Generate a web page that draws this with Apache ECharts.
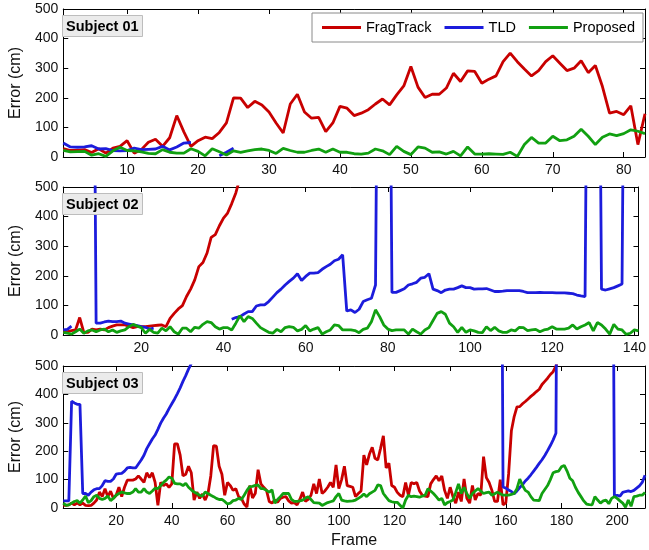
<!DOCTYPE html>
<html><head><meta charset="utf-8">
<script src="https://cdn.jsdelivr.net/npm/echarts@6/dist/echarts.min.js"></script>
<style>html,body{margin:0;padding:0;background:#fff}#c{width:649px;height:550px}</style>
</head><body><div id="c"></div>
<script>
// ---------- labels / ticks ----------
const seriesNames = ['FragTrack', 'TLD', 'Proposed'];
const subjectTitles = ['Subject 01', 'Subject 02', 'Subject 03'];
const frameMin = [1, 1, 1];
const frameMax = [83, 141, 210];
const xTicks1 = [10, 20, 30, 40, 50, 60, 70, 80];
const xTicks2 = [20, 40, 60, 80, 100, 120, 140];
const xTicks3 = [20, 40, 60, 80, 100, 120, 140, 160, 180, 200];
const yTicks = [0, 100, 200, 300, 400, 500];

// ---------- Subject 01 (frames 1..83) ----------
const s1FragTrack = [28,22,22,25,15,28,13,30,36,55,13,25,50,60,36,65,140,85,36,55,
  67,62,83,115,200,199,167,188,176,152,115,81,179,212,152,131,134,86,115,171,
  165,140,148,160,179,196,176,210,240,306,236,201,212,212,233,283,255,291,289,249,
  263,274,322,351,322,297,274,292,322,342,317,292,300,325,285,309,238,148,154,143,
  173,42,146];
const s1TLDStarts = [1, 23];
const s1TLDa = [47,34,33,34,38,27,28,22,21,22,30,25,26,27,36,24,34,47,49];
const s1TLDb = [4,16,30];
const s1Proposed = [22,17,18,19,6,11,2,21,33,22,21,17,12,11,25,16,13,13,28,19,
  4,28,18,7,21,16,21,25,27,22,12,29,22,16,16,22,27,16,27,16,
  16,11,10,13,27,21,8,36,19,8,34,30,16,17,10,19,4,34,10,10,
  11,10,9,16,2,42,66,47,47,70,55,58,70,94,70,42,67,78,72,79,
  92,87,79];

// ---------- Subject 02 (frames 1..141) ----------
const s2FragTrack = [11,11,15,17,59,9,9,20,17,20,17,25,30,34,34,34,30,25,28,28,
  28,30,32,33,34,28,56,73,88,99,130,155,186,231,245,277,330,339,369,395,
  412,444,480,530];
const s2TLDStarts = [1, 8, 42, 80, 131];
const s2TLDa = [17,19,30];
const s2TLDb = [2000,40,40,44,47,45,45,47,40,37,34,32,28,26,20,23];
const s2TLDc = [53,59,62,71,79,79,98,102,102,113,128,143,155,169,181,192,207,184,198,209,
  209,211,222,231,239,251,256,271,81,85,76,87,113,119,124,169,2000];
const s2TLDd = [2000,144,144,150,156,169,173,178,192,195,207,155,150,143,152,155,155,160,166,160,
  160,155,156,156,157,152,147,147,148,150,150,150,150,147,143,143,143,144,143,143,
  143,142,142,142,141,140,135,132,130,2000];
const s2TLDe = [2000,155,152,156,160,166,172,2000];
const s2Proposed = [9,6,3,11,20,6,14,17,11,17,20,11,17,9,14,17,28,36,30,25,
  6,19,9,6,23,14,28,11,3,23,23,11,26,23,36,45,42,28,20,25,
  25,17,40,65,45,62,56,40,25,17,9,6,19,11,25,28,26,14,19,32,
  14,20,25,3,11,17,34,32,17,17,17,15,8,19,23,45,85,62,34,20,
  15,17,17,17,3,20,11,3,17,25,49,73,79,70,40,28,9,26,9,17,
  14,9,8,28,15,26,14,9,9,17,14,26,25,15,17,19,11,17,20,28,
  20,20,20,23,34,20,28,34,42,14,42,34,20,3,36,20,17,2,6,17,14];

// ---------- Subject 03 (frames 1..210) ----------
const s3FragTrack = [9,9,11,17,11,17,11,17,9,8,9,17,28,56,40,68,40,59,34,45,
  73,40,73,98,98,98,102,113,102,90,124,107,124,90,9,90,79,85,73,85,
  226,226,186,113,119,147,124,28,56,34,49,28,51,113,220,218,147,119,45,90,
  79,62,68,40,34,14,3,79,35,52,135,85,73,63,23,17,28,20,34,38,
  40,25,17,19,11,30,56,23,30,45,85,51,102,51,60,73,90,73,152,68,
  100,147,79,76,73,40,51,60,186,152,190,214,175,169,210,254,141,158,79,73,
  55,45,40,90,45,90,85,90,60,45,42,40,85,100,113,96,113,62,34,73,
  40,17,56,23,102,34,17,79,28,51,45,181,107,90,62,23,23,100,11,18,
  120,272,322,356,357,367,375,384,393,401,410,418,435,446,457,470,480,500,530];
const s3TLDStarts = [1, 158, 198];
const s3TLDa = [25,25,25,376,370,365,365,51,51,45,56,64,68,68,79,96,94,94,102,119,
  121,122,130,141,143,141,141,155,169,186,209,226,243,257,277,299,316,331,350,367,
  384,403,423,446,466,489,508];
const s3TLDb = [2000,74,70,63,58,50,60,72,82,95,105,117,130,143,157,170,185,202,220,240,263,2000];
const s3TLDc = [2000,41,45,42,55,58,60,58,62,70,78,90,115];
const s3Proposed = [17,9,11,17,23,26,17,28,42,19,26,40,45,34,30,34,42,26,34,45,
  51,56,53,51,51,56,68,56,56,68,56,51,60,70,68,79,90,98,109,105,
  87,85,85,79,87,73,64,56,51,45,42,56,51,45,40,34,30,30,23,14,
  17,26,28,34,30,45,62,75,76,80,81,68,68,62,56,64,17,30,40,51,
  51,51,30,23,23,25,28,35,40,30,19,18,17,9,14,19,22,25,40,51,
  28,25,23,24,25,28,34,40,49,40,50,56,62,81,79,51,38,26,22,20,
  20,10,0,28,45,40,42,40,38,42,45,68,60,51,40,28,34,11,19,23,
  28,55,85,51,73,50,34,51,60,68,60,51,54,56,45,50,56,50,45,45,
  45,48,51,68,102,79,62,56,40,28,27,26,51,65,79,100,124,128,130,145,
  150,130,105,96,73,55,40,25,14,12,11,40,28,17,25,28,15,34,40,34,
  25,17,3,28,6,40,42,45,45,55];

// ---------- build ----------
function pts(starts, segs) {
  const out = [];
  segs.forEach((vals, k) => {
    if (k > 0) out.push([starts[k - 1] + segs[k - 1].length, null]);
    vals.forEach((v, i) => out.push([starts[k] + i, v]));
  });
  return out;
}
const panelData = [
  [pts([1], [s1FragTrack]), pts(s1TLDStarts, [s1TLDa, s1TLDb]), pts([1], [s1Proposed])],
  [pts([1], [s2FragTrack]), pts(s2TLDStarts, [s2TLDa, s2TLDb, s2TLDc, s2TLDd, s2TLDe]), pts([1], [s2Proposed])],
  [pts([1], [s3FragTrack]), pts(s3TLDStarts, [s3TLDa, s3TLDb, s3TLDc]), pts([1], [s3Proposed])]
];
const xTicks = [xTicks1, xTicks2, xTicks3];
const colors = ['#c80000', '#1c1cdc', '#11a011'];
const FONT = '"Liberation Sans", Arial, Helvetica, sans-serif';
const TXT = '#111';
const gridTops = [9, 187, 366];

const grid = [], xAxis = [], yAxis = [], series = [], title = [];
gridTops.forEach((top, g) => {
  grid.push({ left: 57, right: 4, top: top, height: 148 });
  const line = { show: true, onZero: false, lineStyle: { color: '#000', width: 1 } };
  xAxis.push({
    gridIndex: g, type: 'value', position: 'bottom', min: frameMin[g], max: frameMax[g],
    axisLine: line, splitLine: { show: false },
    axisTick: { inside: true, length: 5, customValues: xTicks[g], lineStyle: { color: '#000' } },
    axisLabel: { customValues: xTicks[g], margin: 6, fontSize: 14, color: TXT, fontFamily: FONT },
    name: g === 2 ? 'Frame' : '', nameLocation: 'middle', nameGap: 25,
    nameTextStyle: { fontSize: 16, color: TXT, fontFamily: FONT }
  });
  xAxis.push({
    gridIndex: g, type: 'value', position: 'top', min: frameMin[g], max: frameMax[g],
    axisLine: line, splitLine: { show: false },
    axisTick: { inside: true, length: 5, customValues: xTicks[g], lineStyle: { color: '#000' } },
    axisLabel: { show: false }
  });
  yAxis.push({
    gridIndex: g, type: 'value', position: 'left', min: 0, max: 500, interval: 100,
    axisLine: line, splitLine: { show: false },
    axisTick: { inside: true, length: 5, lineStyle: { color: '#000' } },
    axisLabel: { margin: 5, fontSize: 14, color: TXT, fontFamily: FONT,
      formatter: v => yTicks.includes(v) ? String(v) : '' },
    name: 'Error (cm)', nameLocation: 'middle', nameGap: 34,
    nameTextStyle: { fontSize: 16, color: TXT, fontFamily: FONT }
  });
  yAxis.push({
    gridIndex: g, type: 'value', position: 'right', min: 0, max: 500, interval: 100,
    axisLine: line, splitLine: { show: false },
    axisTick: { inside: true, length: 5, lineStyle: { color: '#000' } },
    axisLabel: { show: false }
  });
  panelData[g].forEach((d, s) => {
    series.push({
      name: seriesNames[s], type: 'line', xAxisIndex: 2 * g, yAxisIndex: 2 * g,
      data: d, showSymbol: false, symbol: 'none', clip: true, connectNulls: false,
      lineStyle: { color: colors[s], width: 2.8 }, itemStyle: { color: colors[s] },
      z: 2 + s, animation: false
    });
  });
  title.push({
    text: subjectTitles[g], left: 62, top: top + 6,
    backgroundColor: '#ebebeb', borderColor: '#bdbdbd', borderWidth: 1,
    padding: [4, 4, 3, 4],
    textStyle: { fontSize: 14.5, fontWeight: 'bold', color: '#000', fontFamily: FONT }
  });
});

const chart = echarts.init(document.getElementById('c'), null, { renderer: 'canvas' });
chart.setOption({
  animation: false,
  backgroundColor: '#fff',
  textStyle: { fontFamily: FONT },
  title: title,
  legend: {
    data: seriesNames, left: 312, top: 13, orient: 'horizontal',
    icon: 'rect', itemWidth: 39, itemHeight: 3, itemGap: 13,
    padding: [7, 8, 7, 10], borderColor: '#8a8a8a', borderWidth: 1, backgroundColor: '#fff',
    textStyle: { fontSize: 14.5, color: '#000', fontFamily: FONT },
    selectedMode: false
  },
  grid: grid, xAxis: xAxis, yAxis: yAxis, series: series
});
</script></body></html>
